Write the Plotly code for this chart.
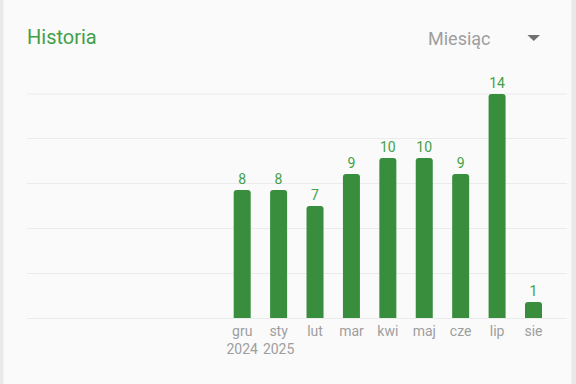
import plotly.graph_objects as go

months = ["gru<br>2024", "sty<br>2025", "lut", "mar", "kwi", "maj", "cze", "lip", "sie"]
counts = [8, 8, 7, 9, 10, 10, 9, 14, 1]
positions = list(range(len(months)))

W, H = 576, 384
ML, MR, MT, MB = 27, 9, 94, 66
PW, PH = W - ML - MR, H - MT - MB

def px(x):
    return (x - ML) / PW

def py(y):
    return (H - MB - y) / PH

fig = go.Figure(
    go.Bar(
        x=positions,
        y=counts,
        width=0.467,
        marker=dict(color="#388E3C", line=dict(width=0)),
        text=[str(c) for c in counts],
        textposition="outside",
        textfont=dict(color="#43A047", size=14, family="Roboto"),
        cliponaxis=False,
        hoverinfo="skip",
    )
)

fig.update_layout(
    width=W,
    height=H,
    margin=dict(l=ML, r=MR, t=MT, b=MB, pad=0),
    paper_bgcolor="#e9e9e9",
    plot_bgcolor="rgba(0,0,0,0)",
    showlegend=False,
    barcornerradius=3,
    font=dict(family="Roboto", color="#9E9E9E"),
    xaxis=dict(
        range=[-5.91, 8.92],
        tickvals=positions,
        ticktext=months,
        showgrid=False,
        zeroline=False,
        showline=False,
        ticks="",
        ticklabelstandoff=3,
        tickfont=dict(size=14, color="#9E9E9E", family="Roboto"),
        fixedrange=True,
    ),
    yaxis=dict(
        range=[0, 14],
        dtick=2.8,
        tick0=0,
        showticklabels=False,
        gridcolor="#ebebeb",
        gridwidth=1,
        zeroline=True,
        zerolinecolor="#ebebeb",
        zerolinewidth=1,
        showline=False,
        ticks="",
        fixedrange=True,
    ),
    shapes=[
        dict(
            type="rect", xref="paper", yref="paper", layer="below",
            x0=px(3.5), x1=px(571.5), y0=py(H + 5), y1=py(-5),
            fillcolor="#fafafa", line=dict(width=0),
        ),
        dict(
            type="line", xref="paper", yref="paper", layer="below",
            x0=0, x1=1, y0=1, y1=1,
            line=dict(color="#ebebeb", width=1),
        ),
        dict(
            type="path", xref="paper", yref="paper",
            path=f"M {px(527.5)} {py(35)} L {px(540)} {py(35)} L {px(533.75)} {py(41)} Z",
            fillcolor="#707070", line=dict(width=0),
        ),
    ],
    annotations=[
        dict(
            text="Historia", xref="paper", yref="paper",
            x=px(24.5), y=py(37), xanchor="left", yanchor="middle",
            showarrow=False, font=dict(size=20, color="#43A047", family="Roboto"),
        ),
        dict(
            text="Miesiąc", xref="paper", yref="paper",
            x=px(425.5), y=py(38), xanchor="left", yanchor="middle",
            showarrow=False, font=dict(size=18, color="#9E9E9E", family="Roboto"),
        ),
    ],
)

fig.write_html(
    "out.html",
    config={"displayModeBar": False},
    post_script="document.body.style.margin='0';document.body.style.overflow='hidden';",
)
